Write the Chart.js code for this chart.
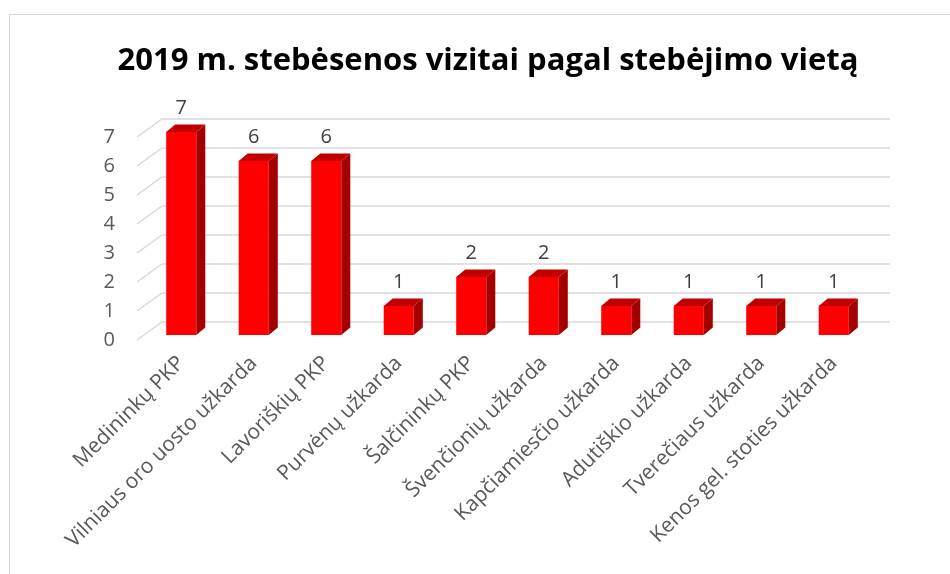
<!DOCTYPE html>
<html>
<head>
<meta charset="utf-8">
<script src="https://cdn.jsdelivr.net/npm/chart.js@4.4.0/dist/chart.umd.min.js"></script>
<style>
  html, body { margin: 0; padding: 0; background: #fff; }
  #wrap { width: 950px; height: 574px; }
</style>
</head>
<body>
<div id="wrap"><canvas id="myChart" width="950" height="574"></canvas></div>
<script>
const chartTitle = '2019 m. stebėsenos vizitai pagal stebėjimo vietą';
const categories = [
    'Medininkų PKP',
    'Vilniaus oro uosto užkarda',
    'Lavoriškių PKP',
    'Purvėnų užkarda',
    'Šalčininkų PKP',
    'Švenčionių užkarda',
    'Kapčiamiesčio užkarda',
    'Adutiškio užkarda',
    'Tverečiaus užkarda',
    'Kenos gel. stoties užkarda'
];
const visits = [7, 6, 6, 1, 2, 2, 1, 1, 1, 1];
const yMin = 0, yMax = 7, yStep = 1;

const FONT = "'Open Sans', sans-serif";

// fake 3D look: back wall grid, side + top faces, value labels
const bars3d = {
    id: 'bars3d',
    beforeDraw(chart) {
        const ctx = chart.ctx;
        ctx.save();
        ctx.strokeStyle = '#d9d9d9';
        ctx.lineWidth = 1;
        ctx.strokeRect(9.5, 14.5, 1000, 1000);
        // title, centred on the whole frame
        ctx.fillStyle = '#000000';
        ctx.font = 'bold 31px ' + FONT;
        ctx.textAlign = 'center';
        ctx.textBaseline = 'middle';
        ctx.fillText(chartTitle, 488, 61);
        ctx.restore();
    },
    beforeDatasetsDraw(chart) {
        const ctx = chart.ctx;
        const area = chart.chartArea;
        const y = chart.scales.y;
        ctx.save();
        ctx.strokeStyle = '#d9d9d9';
        ctx.lineWidth = 1.5;
        y.ticks.forEach(t => {
            const yf = y.getPixelForValue(t.value);
            ctx.beginPath();
            ctx.moveTo(area.left - 8, yf + 5);
            ctx.lineTo(area.left + 17, yf - 13);
            ctx.lineTo(area.right + 20, yf - 13);
            ctx.stroke();
        });
        ctx.restore();
    },
    afterDatasetsDraw(chart) {
        const ctx = chart.ctx;
        const meta = chart.getDatasetMeta(0);
        const dx = 9, dy = 7.5;
        ctx.save();
        meta.data.forEach((bar, i) => {
            const p = bar.getProps(['x', 'y', 'base', 'width'], true);
            const l = p.x - p.width / 2, r = p.x + p.width / 2;
            // side
            ctx.fillStyle = '#a50000';
            ctx.beginPath();
            ctx.moveTo(r, p.y);
            ctx.lineTo(r + dx, p.y - dy);
            ctx.lineTo(r + dx, p.base - dy);
            ctx.lineTo(r, p.base);
            ctx.closePath();
            ctx.fill();
            // top
            ctx.fillStyle = '#c00000';
            ctx.beginPath();
            ctx.moveTo(l, p.y);
            ctx.lineTo(l + dx, p.y - dy);
            ctx.lineTo(r + dx, p.y - dy);
            ctx.lineTo(r, p.y);
            ctx.closePath();
            ctx.fill();
            // value
            ctx.fillStyle = '#404040';
            ctx.font = '20px ' + FONT;
            ctx.textAlign = 'center';
            ctx.textBaseline = 'middle';
            ctx.fillText(visits[i], p.x, p.y - 24);
        });
        ctx.restore();
    }
};

let ct = document.getElementById('myChart').getContext('2d');
let myChart = new Chart(ct, {
    type: 'bar',
    data: {
        labels: categories,
        datasets: [
            {
                label: 'Vizitai',
                data: visits,
                backgroundColor: '#ff0000',
                borderWidth: 0,
                barPercentage: 0.5,
                categoryPercentage: 0.83
            }
        ]
    },
    options: {
        responsive: false,
        animation: false,
        layout: {
            padding: { left: 0, right: 80, top: 132, bottom: 0 }
        },
        plugins: {
            legend: { display: false },
            tooltip: { enabled: false },
            title: { display: false }
        },
        scales: {
            x: {
                grid: { display: false },
                border: { display: false },
                ticks: {
                    color: '#595959',
                    font: { family: FONT, size: 21 },
                    maxRotation: 45,
                    minRotation: 45,
                    autoSkip: false,
                    padding: 8
                },
                afterFit(scale) { scale.height = 239; }
            },
            y: {
                min: yMin,
                max: yMax,
                grid: { display: false },
                border: { display: false },
                ticks: {
                    stepSize: yStep,
                    color: '#595959',
                    font: { family: FONT, size: 20 },
                    padding: 22,
                    labelOffset: 5
                },
                afterFit(scale) { scale.width = 145; }
            }
        }
    },
    plugins: [bars3d]
});
</script>
</body>
</html>
